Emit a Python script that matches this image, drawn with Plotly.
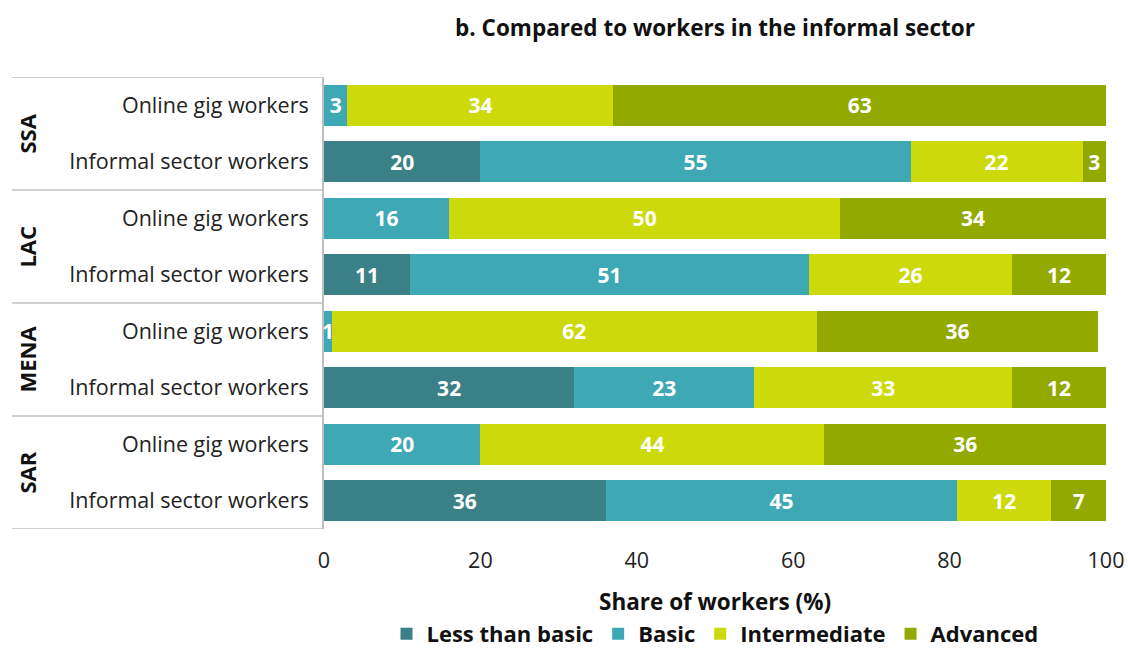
import plotly.graph_objects as go

# Skill levels of online gig workers vs informal sector workers, by region
regions = ["SSA", "LAC", "MENA", "SAR"]
row_labels = ["Online gig workers", "Informal sector workers"] * 4
levels = ["Less than basic", "Basic", "Intermediate", "Advanced"]

less_than_basic = [0, 20, 0, 11, 0, 32, 0, 36]
basic = [3, 55, 16, 51, 1, 23, 20, 45]
intermediate = [34, 22, 50, 26, 62, 33, 44, 12]
advanced = [63, 3, 34, 12, 36, 12, 36, 7]

colors = ["#3A8086", "#3EA8B5", "#CCDA0B", "#92A900"]
series = [less_than_basic, basic, intermediate, advanced]

FONT = "Open Sans"
rows = list(range(len(row_labels)))

fig = go.Figure()
for name, vals, col in zip(levels, series, colors):
    fig.add_trace(go.Bar(
        y=rows, x=vals, orientation="h", name=name,
        marker=dict(color=col, line=dict(width=0)),
        text=[str(v) if v > 0 else "" for v in vals],
        textposition="inside", insidetextanchor="middle",
        textfont=dict(family=FONT, size=21, color="white", weight="bold"),
        constraintext="none", cliponaxis=False,
        width=0.72,
    ))

# Region separators and rotated region labels in the left margin
x_left = -0.399
bounds = [-0.5, 1.5, 3.5, 5.5, 7.5]
for b in bounds:
    fig.add_shape(type="line", xref="paper", yref="y", x0=x_left, x1=0,
                  y0=b, y1=b, line=dict(color="#BFBFBF", width=1.5))
for i, reg in enumerate(regions):
    fig.add_annotation(xref="paper", yref="y", x=-0.381, y=2 * i + 0.5,
                       xanchor="center", yanchor="middle",
                       text=f"<b>{reg}</b>", textangle=-90, showarrow=False,
                       font=dict(family=FONT, size=22, color="#111"))

# x-axis title placed below the tick labels
fig.add_annotation(xref="paper", yref="paper", x=0.5, y=-0.1615,
                   xanchor="center", yanchor="middle", showarrow=False,
                   text="<b>Share of workers (%)</b>",
                   font=dict(family=FONT, size=22.5, color="#111"))

fig.update_layout(
    width=1128, height=653,
    margin=dict(l=324, r=22, t=77, b=124, autoexpand=False),
    barmode="stack", bargap=0.28,
    paper_bgcolor="white", plot_bgcolor="white",
    font=dict(family=FONT, color="#222"),
    title=dict(text="<b>b. Compared to workers in the informal sector</b>",
               x=0.5, xref="paper", xanchor="center",
               y=1 - 28 / 653, yref="container", yanchor="middle",
               font=dict(family=FONT, size=22.5, color="#111")),
    uniformtext=dict(minsize=21, mode="show"),
    legend=dict(orientation="h", x=0.5, xanchor="center",
                y=-0.2323, yref="paper", yanchor="middle",
                traceorder="normal",
                font=dict(family=FONT, size=22, color="#111", weight="bold"),
                itemwidth=30),
    xaxis=dict(range=[0, 100], tickvals=[0, 20, 40, 60, 80, 100],
               showgrid=False, zeroline=False, showline=False, ticks="",
               automargin=False, ticklabelstandoff=16,
               tickfont=dict(family=FONT, size=21.5, color="#222")),
    yaxis=dict(range=[7.5, -0.5], tickvals=rows, ticktext=row_labels,
               showgrid=False, zeroline=False, showline=True, automargin=False,
               linecolor="#BFBFBF", linewidth=2, ticks="", ticklabelstandoff=9,
               tickfont=dict(family=FONT, size=21.5, color="#222")),
)

fig.write_html("out.html")
